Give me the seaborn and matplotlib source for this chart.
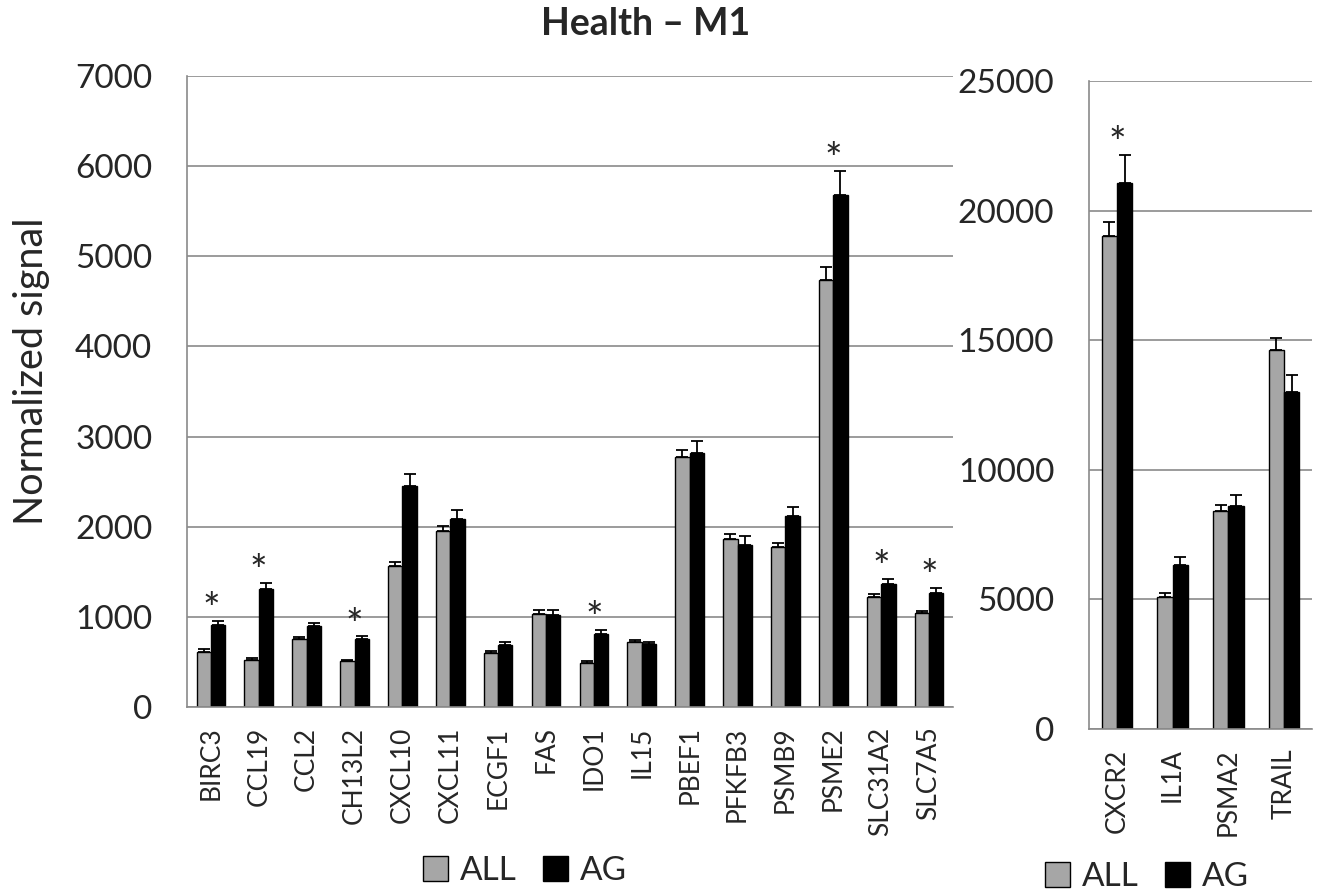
import numpy as np
import pandas as pd
import matplotlib
matplotlib.use("Agg")
import matplotlib.pyplot as plt
import seaborn as sns
from matplotlib.patches import Patch

# left panel
genes_left = ["BIRC3", "CCL19", "CCL2", "CH13L2", "CXCL10", "CXCL11", "ECGF1", "FAS",
              "IDO1", "IL15", "PBEF1", "PFKFB3", "PSMB9", "PSME2", "SLC31A2", "SLC7A5"]
all_left = [615, 525, 760, 508, 1560, 1950, 597, 1035, 492, 724, 2776, 1860, 1778, 4737, 1220, 1040]
ag_left = [910, 1313, 903, 754, 2455, 2088, 687, 1022, 813, 702, 2816, 1803, 2123, 5680, 1360, 1260]
all_left_err = [25, 15, 20, 15, 45, 62, 20, 36, 15, 20, 80, 55, 45, 150, 35, 30]
ag_left_err = [45, 67, 30, 29, 130, 100, 37, 60, 45, 25, 135, 90, 100, 270, 57, 60]
sig_left = ["BIRC3", "CCL19", "CH13L2", "IDO1", "PSME2", "SLC31A2", "SLC7A5"]

# right panel
genes_right = ["CXCR2", "IL1A", "PSMA2", "TRAIL"]
all_right = [19020, 5110, 8396, 14625]
ag_right = [21076, 6315, 8603, 12990]
all_right_err = [530, 140, 260, 460]
ag_right_err = [1060, 310, 430, 650]
sig_right = ["CXCR2"]

groups = ["ALL", "AG"]
colors = {"ALL": "#a6a6a6", "AG": "#000000"}
grid_col = "#8a8a8a"

sns.set_style("white")
plt.rcParams["font.family"] = ["Lato", "DejaVu Sans"]

fig = plt.figure(figsize=(13.23, 8.96), dpi=100)
axL = fig.add_axes([0.1413, 0.2109, 0.579, 0.7042])
axR = fig.add_axes([0.8231, 0.1864, 0.1686, 0.7232])


def panel(ax, genes, a, b, ea, eb, sig, ymax, step, width):
    df = pd.DataFrame({
        "gene": genes * 2,
        "signal": list(a) + list(b),
        "group": ["ALL"] * len(genes) + ["AG"] * len(genes),
    })
    sns.barplot(data=df, x="gene", y="signal", hue="group", hue_order=groups,
                palette=colors, edgecolor="black", linewidth=1.0, width=width,
                gap=0, errorbar=None, legend=False, ax=ax, zorder=2)
    tops = np.zeros(len(genes))
    for cont, vals, errs in zip(ax.containers, [a, b], [ea, eb]):
        xs = [p.get_x() + p.get_width() / 2 for p in cont.patches]
        ax.errorbar(xs, vals, yerr=[np.zeros(len(vals)), errs], fmt="none",
                    ecolor="black", elinewidth=1.3, capsize=4.5, capthick=1.3, zorder=3)
        tops = np.maximum(tops, np.array(vals) + np.array(errs))
    for i, g in enumerate(genes):
        if g in sig:
            ax.annotate("*", (i, tops[i]), xytext=(0, -1.5), textcoords="offset points",
                        ha="center", va="baseline", fontsize=30)
    n = len(genes)
    ax.set_xlim(-0.5, n - 0.5)
    ax.set_ylim(0, ymax)
    ax.set_yticks(np.arange(0, ymax + 1, step))
    ax.set_xticks(np.arange(-0.5, n, 1), minor=True)
    ax.tick_params(axis="x", which="major", length=0, pad=14, labelsize=19, labelrotation=90)
    ax.tick_params(axis="x", which="minor", length=7, width=1.1, color=grid_col, direction="out")
    ax.tick_params(axis="y", length=9, width=1.1, color=grid_col, direction="out",
                   pad=16, labelsize=24)
    ax.yaxis.grid(True, color=grid_col, linewidth=1.2)
    ax.set_axisbelow(True)
    ax.set_xlabel("")
    ax.set_ylabel("")
    for s in ["top", "right"]:
        ax.spines[s].set_visible(False)
    for s in ["left", "bottom"]:
        ax.spines[s].set_color(grid_col)
        ax.spines[s].set_linewidth(1.2)


panel(axL, genes_left, all_left, ag_left, all_left_err, ag_left_err, sig_left, 7000, 1000, 0.6)
panel(axR, genes_right, all_right, ag_right, all_right_err, ag_right_err, sig_right, 25000, 5000, 0.55)

fig.text(0.488, 1 - 24 / 896, "Health – M1", ha="center", va="center",
         fontsize=27, fontweight="bold")
fig.text(0.024, 1 - 371 / 896, "Normalized signal", rotation=90, ha="center",
         va="center", fontsize=28.5)

handles = [Patch(facecolor=colors[g], edgecolor="black", linewidth=1.0, label=g) for g in groups]
leg_kw = dict(ncol=2, frameon=False, fontsize=24, handlelength=0.75, handleheight=0.75,
              handletextpad=0.35, columnspacing=0.8, loc="center")
fig.legend(handles=handles, bbox_to_anchor=(525 / 1323, 1 - 871 / 896), **leg_kw)
fig.legend(handles=handles, bbox_to_anchor=(1147 / 1323, 1 - 877 / 896), **leg_kw)

fig.savefig("out.png", dpi=100)
